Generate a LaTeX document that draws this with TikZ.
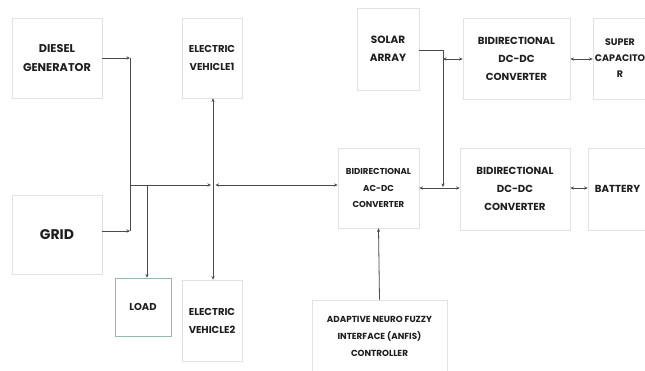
\documentclass[tikz,border=0pt]{standalone}
\usepackage{fontspec}
\setmainfont{Poppins}
\usetikzlibrary{arrows.meta}
\definecolor{boxgray}{HTML}{E2E2E2}
\definecolor{loadteal}{HTML}{8FBDB4}
\definecolor{linegray}{HTML}{4A4A4A}
\definecolor{txt}{HTML}{1E1E1E}
\tikzset{
  blk/.style={draw=boxgray, line width=0.8pt, inner sep=0pt, align=center, text=txt},
  fs/.style 2 args={font=\fontsize{#1}{#2}\selectfont\bfseries},
  conn/.style={draw=linegray, line width=0.8pt},
  tip/.style={-{Stealth[length=3.5pt,width=3.2pt]}},
  tips/.style={{Stealth[length=3.5pt,width=3.2pt]}-{Stealth[length=3.5pt,width=3.2pt]}},
}
\begin{document}
\begin{tikzpicture}[x=1pt,y=-1pt]
\useasboundingbox (0,0) rectangle (645,371);
\clip (0,0) rectangle (645,371);
\fill[white] (0,0) rectangle (645,371);
% blocks
\node[blk, fs={11.3}{19}, minimum width=90pt, minimum height=80pt] (diesel) at (57,58) {DIESEL\\GENERATOR};
\node[blk, fs={10}{18}, minimum width=60pt, minimum height=80pt] (ev1) at (212,58) {ELECTRIC\\VEHICLE1};
\node[blk, fs={14}{15}, minimum width=90pt, minimum height=79pt] (grid) at (57,234.5) {GRID};
\node[blk, draw=loadteal, fs={10}{12}, minimum width=56pt, minimum height=58pt] (load) at (143,307) {LOAD};
\node[blk, fs={10}{18}, minimum width=60pt, minimum height=81pt] (ev2) at (212,320.5) {ELECTRIC\\VEHICLE2};
\node[blk, fs={10.5}{18}, minimum width=62pt, minimum height=82pt] (solar) at (388,49) {SOLAR\\ARRAY};
\node[blk, fs={10.2}{18}, minimum width=107pt, minimum height=81pt] (bidc1) at (516.5,58.5) {BIDIRECTIONAL\\DC-DC\\CONVERTER};
\node[blk, fs={9.5}{16}, minimum width=54pt, minimum height=81pt] (scap) at (620,58.5) {SUPER\\CAPACITO\\R};
\node[blk, fs={8.6}{16.7}, minimum width=81pt, minimum height=80pt] (acdc) at (378.5,188) {BIDIRECTIONAL\\AC-DC\\CONVERTER};
\node[blk, fs={10.2}{18}, minimum width=110pt, minimum height=82pt] (bidc2) at (515,189) {BIDIRECTIONAL\\DC-DC\\CONVERTER};
\node[blk, fs={10.2}{12}, minimum width=59pt, minimum height=82pt] (batt) at (617.5,189) {BATTERY};
\node[blk, fs={8.8}{16.7}, minimum width=135pt, minimum height=73pt] (anfis) at (379.5,336.5) {ADAPTIVE NEURO FUZZY\\INTERFACE (ANFIS)\\CONTROLLER};
% junction coordinates
\coordinate (dj) at (130,58);
\coordinate (gj) at (130,231);
\coordinate (bus) at (130,185);
\coordinate (ldj) at (147,185);
\coordinate (evl) at (211,185);
\coordinate (evr) at (215.5,185);
\coordinate (sj) at (443,50);
\coordinate (sj2) at (443,59);
\coordinate (sj3) at (443,187);
% connectors
\draw[conn, tip] (diesel.east |- dj) -- (dj);
\draw[conn] (dj) -- (gj);
\draw[conn, tip] (grid.east |- gj) -- (gj);
\draw[conn, tip] (bus) -- (evl);
\draw[conn, tips] (evr) -- (acdc.west |- evr);
\draw[conn, tips] (ev1.south -| 213,0) -- (ev2.north -| 213,0);
\draw[conn, tip] (ldj) -- (ldj |- load.north);
\draw[conn] (solar.east |- sj) -- (sj);
\draw[conn, tip] (sj) -- (sj3);
\draw[conn, tips] (sj2) -- (bidc1.west |- sj2);
\draw[conn, tips] (acdc.east |- 0,188) -- (bidc2.west |- 0,188);
\draw[conn, tips] (bidc1.east |- 0,59) -- (scap.west |- 0,59);
\draw[conn, tips] (bidc2.east |- 0,188) -- (batt.west |- 0,188);
\draw[conn, tip] (anfis.north) -- (acdc.south);
\end{tikzpicture}
\end{document}
